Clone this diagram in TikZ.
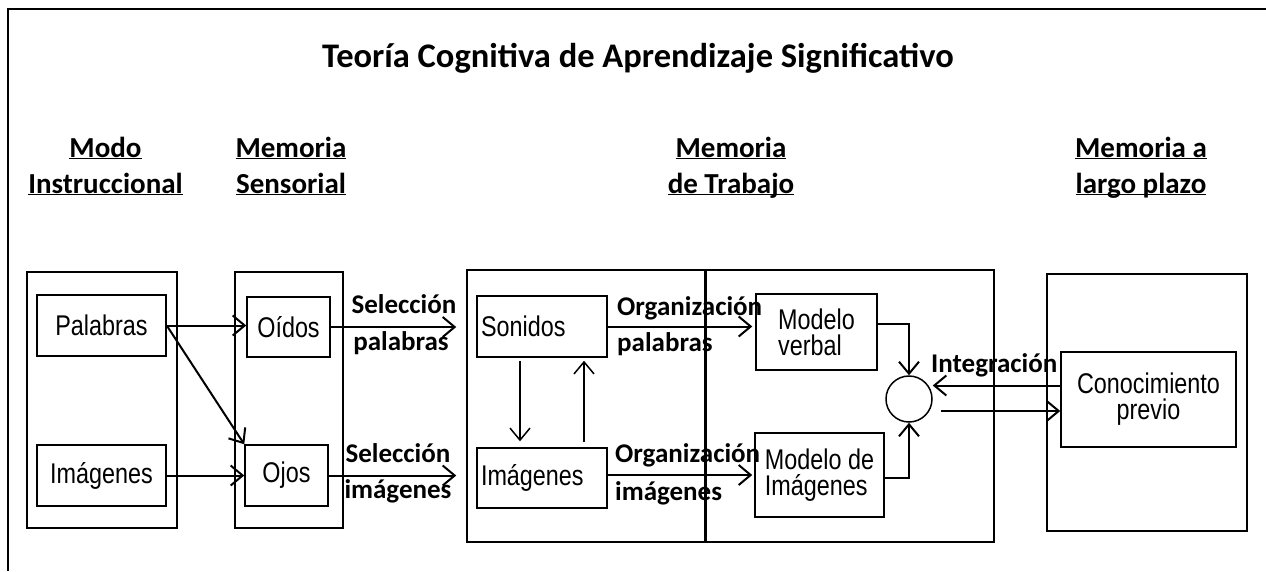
\documentclass[tikz,border=0pt]{standalone}
\usepackage{fontspec}
\usepackage{tikz}
\usetikzlibrary{calc,arrows.meta,positioning}
\newfontfamily\calfont{Carlito}
\newfontfamily\arfont{Liberation Sans}[FakeStretch=0.82]
\newcommand{\hul}[1]{\underline{\smash{#1}}}
\tikzset{box/.style={draw, line width=1.5pt, inner sep=0pt, font=\arfont\fontsize{28.5}{26}\selectfont},
  frame/.style={draw, line width=1.5pt, inner sep=0pt},
  hdr/.style={font=\calfont\bfseries\fontsize{29}{36}\selectfont, align=center, inner sep=0pt, anchor=base},
  lbl/.style={font=\calfont\bfseries\fontsize{27}{30}\selectfont, inner sep=0pt},
  arr/.style={line width=2pt, -{Straight Barb[length=12pt,width=20pt]}}}

\begin{document}
\begin{tikzpicture}[x=1pt,y=-1pt]
\useasboundingbox (0,0) rectangle (1266,571);

% Outer frame
\draw[line width=2.5pt] (8,571) -- (8,9) -- (1266,9);

% Title and headers
\node[font=\calfont\bfseries\fontsize{34.5}{40}\selectfont, anchor=base] (title) at (638,67) {Teoría Cognitiva de Aprendizaje Significativo};
\node[hdr] (hmodo) at (105.5,193) {\hul{Modo}\\\hul{Instruccional}};
\node[hdr] (hsens) at (291,193) {\hul{Memoria}\\\hul{Sensorial}};
\node[hdr] (htrab) at (731,193) {\hul{Memoria}\\\hul{de Trabajo}};
\node[hdr] (hlarg) at (1141,193) {\hul{Memoria a}\\\hul{largo plazo}};

% Frames
\node[frame, minimum width=150pt, minimum height=256pt] (modbox) at (102,400) {};
\node[frame, minimum width=108pt, minimum height=256pt] (senbox) at (289,400) {};
\node[frame, minimum width=527pt, minimum height=272pt] (trabox) at (730.5,406) {};
\node[frame, minimum width=200pt, minimum height=257pt] (lpbox) at (1147,402.5) {};
\draw[line width=2.5pt] ($(trabox.north west)+(239,0)$) -- ($(trabox.south west)+(239,0)$);

% Boxes
\node[box, minimum width=129pt, minimum height=61pt] (pal) at (101.5,325.5) {Palabras};
\node[box, minimum width=129pt, minimum height=61pt] (img) at (101.5,475.5) {Imágenes};
\node[box, minimum width=83pt, minimum height=60pt] (oid) at (288.5,327) {Oídos};
\node[box, minimum width=83pt, minimum height=61pt] (ojo) at (286.5,475.5) {Ojos};
\node[box, text width=122pt, inner xsep=4pt, align=left, minimum height=61pt] (son) at (542,326.5) {Sonidos};
\node[box, text width=122pt, inner xsep=4pt, align=left, minimum height=60pt] (imw) at (542,478) {Imágenes};
\node[box, align=left, minimum width=121pt, minimum height=76pt] (mv) at (816.5,332) {Modelo\\verbal};
\node[box, align=left, minimum width=129pt, minimum height=84pt] (mi) at (819.5,475) {Modelo de\\Imágenes};
\node[box, align=center, minimum width=175pt, minimum height=95pt] (con) at (1148.5,399.5) {Conocimiento\\previo};
\node[draw, circle, line width=1.5pt, minimum size=46pt, inner sep=0pt] (cir) at (909,399) {};

% Connectors
\draw[arr] (pal.east) -- (pal.east -| oid.west);
\draw[arr] (pal.east) -- (ojo.north west);
\draw[arr] (img.east) -- (ojo.west);
\draw[arr, shorten >=20pt] (oid.east) -- (oid.east -| son.west);
\draw[arr, shorten >=20pt] (ojo.east) -- (ojo.east -| imw.west);
\draw[arr, line width=1.5pt, shorten <=3pt, shorten >=6pt] ([xshift=-22pt]son.south) -- ([xshift=-22pt]son.south |- imw.north);
\draw[arr, line width=1.5pt, shorten <=5pt, shorten >=3pt] ([xshift=42pt]imw.north) -- ([xshift=42pt]imw.north |- son.south);
\draw[arr, shorten >=3pt] (son.east) -- (son.east -| mv.west);
\draw[arr, shorten >=2pt] ([yshift=3pt]imw.east) -- ([yshift=3pt]imw.east -| mi.west);
\draw[arr] ([yshift=8pt]mv.east) -| (cir.north);
\draw[arr] ([yshift=-3pt]mi.east) -| (cir.south);
\draw[arr] ([yshift=14pt]con.west) -- ([yshift=14pt]con.west -| cir.east);
\draw[arr, shorten <=8pt] ([yshift=-12pt]cir.east) -- ([yshift=-12pt]cir.east -| con.west);

% Labels
\node[lbl, anchor=base] (sel1) at (404,313) {Selección};
\node[lbl, anchor=base] (pal1) at (401,350) {palabras};
\node[lbl, anchor=base] (sel2) at (398,462) {Selección};
\node[lbl, anchor=base] (img1) at (398,498) {imágenes};
\node[lbl, anchor=base west] (org1) at (617,315) {Organización};
\node[lbl, anchor=base west] (pal2) at (617,351) {palabras};
\node[lbl, anchor=base west] (org2) at (615,462) {Organización};
\node[lbl, anchor=base west] (img2) at (615,500) {imágenes};
\node[lbl, anchor=base west] (integ) at (931,372) {Integración};

\end{tikzpicture}
\end{document}
